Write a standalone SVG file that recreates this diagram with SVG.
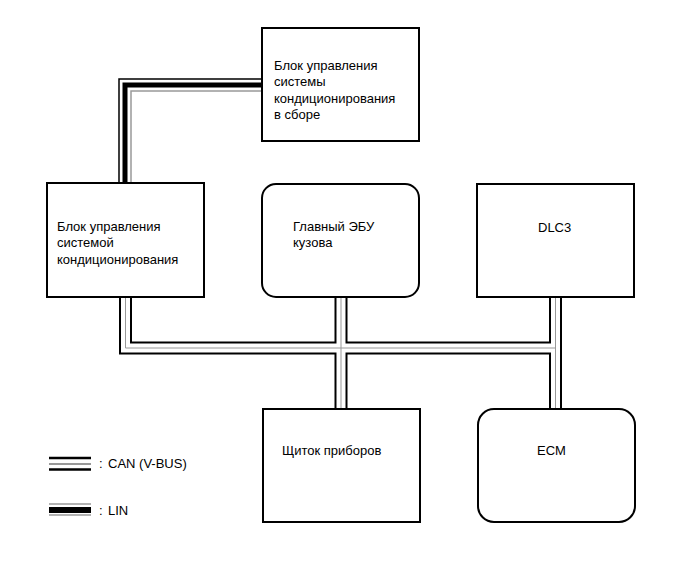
<svg xmlns="http://www.w3.org/2000/svg" width="690" height="562" viewBox="0 0 690 562">
<style>
.box{fill:#fff;stroke:#000;stroke-width:2}
.t{font-family:"Liberation Sans",Arial,sans-serif;font-size:13px;fill:#000}
.busO{fill:none;stroke:#000;stroke-width:13;stroke-linejoin:miter}
.busW{fill:none;stroke:#fff;stroke-width:9;stroke-linejoin:miter}
.busG{fill:none;stroke:#999;stroke-width:1}
</style>
<rect width="690" height="562" fill="#fff"/>
<g id="connectors">
  <path d="M119,183 V79 H262" fill="none" stroke="#000" stroke-width="1.5"/>
  <path d="M125,183 V85 H262" fill="none" stroke="#000" stroke-width="5"/>
  <path d="M131,183 V91 H262" fill="none" stroke="#999" stroke-width="1.5"/>
  <path class="busO" d="M125.5,297 V348 H555.5 M341,297 V409 M555.5,297 V409"/>
  <path class="busW" d="M125.5,297 V348 H555.5 M341,297 V409 M555.5,297 V409"/>
  <path class="busG" d="M125.5,297 V348 H555.5 M341,297 V409 M555.5,297 V409"/>
</g>
<g id="ac-assy">
  <rect class="box" x="262" y="28" width="157" height="113"/>
  <text class="t" x="274" y="70">Блок управления</text>
  <text class="t" x="274" y="86">системы</text>
  <text class="t" x="274" y="103">кондиционирования</text>
  <text class="t" x="274" y="119">в сборе</text>
</g>
<g id="ac-ecu">
  <rect class="box" x="47" y="183" width="157" height="114"/>
  <text class="t" x="57" y="231">Блок управления</text>
  <text class="t" x="57" y="247">системой</text>
  <text class="t" x="57" y="264">кондиционирования</text>
</g>
<g id="main-body-ecu">
  <rect class="box" x="262" y="184" width="157" height="113" rx="14"/>
  <text class="t" x="293" y="231">Главный ЭБУ</text>
  <text class="t" x="293" y="247">кузова</text>
</g>
<g id="dlc3">
  <rect class="box" x="477" y="184" width="157" height="113"/>
  <text class="t" x="538" y="232">DLC3</text>
</g>
<g id="combination-meter">
  <rect class="box" x="263" y="409" width="157" height="113"/>
  <text class="t" x="282" y="455">Щиток приборов</text>
</g>
<g id="ecm">
  <rect class="box" x="478" y="409" width="157" height="113" rx="16"/>
  <text class="t" x="537" y="455">ECM</text>
</g>
<g id="legend">
  <line x1="49" y1="458" x2="91" y2="458" stroke="#000" stroke-width="2.5"/>
  <line x1="49" y1="464" x2="91" y2="464" stroke="#999" stroke-width="2"/>
  <line x1="49" y1="469.5" x2="91" y2="469.5" stroke="#000" stroke-width="2.5"/>
  <text class="t" y="468"><tspan x="99">:</tspan><tspan x="108">CAN (V-BUS)</tspan></text>
  <line x1="49" y1="504" x2="91" y2="504" stroke="#999" stroke-width="1.5"/>
  <line x1="49" y1="510" x2="91" y2="510" stroke="#000" stroke-width="6"/>
  <line x1="49" y1="515" x2="91" y2="515" stroke="#999" stroke-width="1.5"/>
  <text class="t" y="515"><tspan x="99">:</tspan><tspan x="108">LIN</tspan></text>
</g>
</svg>
